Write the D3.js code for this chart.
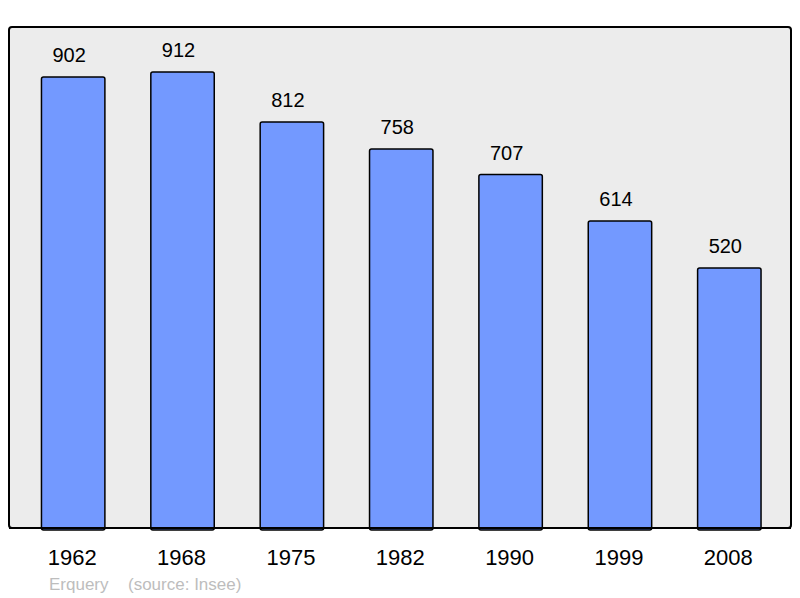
<!DOCTYPE html>
<html>
<head>
<meta charset="utf-8">
<script src="https://cdn.jsdelivr.net/npm/d3@7"></script>
<style>
  body { margin: 0; background: #fff; }
  svg { display: block; font-family: "Liberation Sans", Arial, sans-serif; }
</style>
</head>
<body>
<svg width="800" height="598"></svg>
<script>
// Population data
const years = ["1962", "1968", "1975", "1982", "1990", "1999", "2008"];
const population = [902, 912, 812, 758, 707, 614, 520];
const credit = ["Erquery", "(source: Insee)"];

var svg = d3.select("svg");

// panel
svg.append("rect")
    .attr("x", 9)
    .attr("y", 27)
    .attr("width", 782)
    .attr("height", 501)
    .attr("rx", 3)
    .attr("fill", "#ececec")
    .attr("stroke", "#000")
    .attr("stroke-width", 2);

// scales
var x = d3.scaleBand()
    .domain(years)
    .range([18.5, 784])
    .paddingInner(0.42)
    .paddingOuter(0.21);

var y = d3.scaleLinear()
    .domain([0, 1000])
    .range([528, 28]);

var data = years.map((yr, i) => ({ year: yr, value: population[i] }));

// bars
svg.selectAll(".bar")
    .data(data)
    .enter().append("rect")
    .attr("class", "bar")
    .attr("x", d => x(d.year))
    .attr("y", d => y(d.value))
    .attr("width", x.bandwidth())
    .attr("height", d => y(0) - y(d.value) + 2)
    .attr("rx", 2)
    .attr("fill", "#7399ff")
    .attr("stroke", "#000")
    .attr("stroke-width", 1.5);

// redraw bottom border over bars
svg.append("line")
    .attr("x1", 9).attr("x2", 791)
    .attr("y1", 528).attr("y2", 528)
    .attr("stroke", "#000")
    .attr("stroke-width", 2);

// value labels (sit a little left of bar centre in the original)
svg.selectAll(".val")
    .data(data)
    .enter().append("text")
    .attr("class", "val")
    .attr("x", d => x(d.year) + x.bandwidth() / 2 - 4)
    .attr("y", d => y(d.value) - 15)
    .attr("text-anchor", "middle")
    .attr("font-size", 20)
    .attr("fill", "#000")
    .text(d => d.value);

// year labels
var xAxis = d3.axisBottom(x).tickSize(0).tickPadding(0);
var gx = svg.append("g")
    .attr("transform", "translate(-1,549)")
    .call(xAxis);
gx.select(".domain").remove();
gx.selectAll("text")
    .attr("font-size", 22)
    .attr("font-family", "Liberation Sans, Arial, sans-serif")
    .attr("fill", "#000");

// credit
svg.append("text")
    .attr("x", 49)
    .attr("y", 590)
    .attr("font-size", 17)
    .attr("fill", "#bdbdbd")
    .text(credit[0]);
svg.append("text")
    .attr("x", 128)
    .attr("y", 590)
    .attr("font-size", 17)
    .attr("fill", "#bdbdbd")
    .text(credit[1]);
</script>
</body>
</html>
